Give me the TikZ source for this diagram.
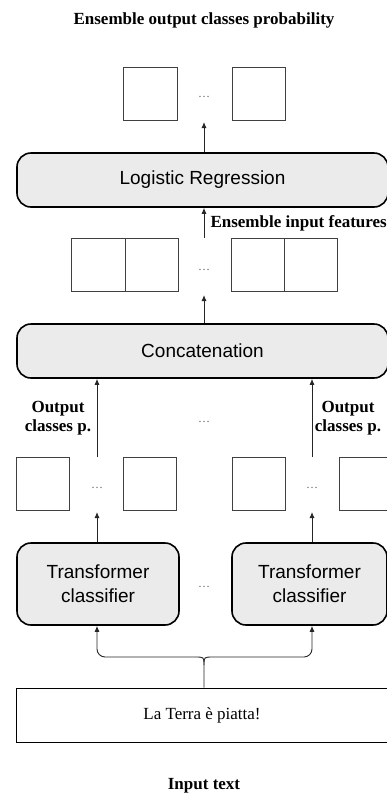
\documentclass[tikz,border=0pt]{standalone}
\usepackage{fontspec}
\setmainfont{Liberation Serif}
\setsansfont{Liberation Sans}
\usetikzlibrary{arrows.meta,positioning}

\begin{document}
\begin{tikzpicture}[x=1pt,y=-1pt,
  cell/.style={draw=black!75,line width=0.8pt,minimum width=53pt,minimum height=53pt,inner sep=0pt,outer sep=0pt},
  block/.style={draw,line width=1.6pt,fill=black!8,rounded corners=14pt,font=\sffamily\fontsize{19}{24}\selectfont,align=center,inner sep=0pt},
  lbl/.style={font=\bfseries\fontsize{17}{19}\selectfont,align=center},
  gap/.style={font=\fontsize{12}{12}\selectfont,text=black!60,inner sep=0pt},
  arr/.style={draw=black!85,line width=0.9pt,-{Latex[length=6pt,width=5pt]}}]
  \useasboundingbox (0,0) rectangle (387,796);
  \clip (0,0) rectangle (387,796);
  \node[lbl] (outtitle) at (204,20) {Ensemble output classes probability};
  \node[cell,minimum width=54pt] (p1) at (150,93.5) {};
  \node[cell] (pn) at (258.5,93.5) {};
  \node[gap] (pdots) at (204,97) {\dots};
  \node[block,minimum width=371pt,minimum height=54pt] (lr) at (202.5,180) {Logistic Regression};
  \coordinate (lrin) at (204,122);
  \draw[arr] (lr.north -| lrin) -- (lrin);
  \node[lbl,anchor=west] (featlbl) at (207,223) {Ensemble input features};
  \node[cell,minimum width=54pt] (f1a) at (98,265) {};
  \node[cell,right=0pt of f1a] (f1b) {};
  \node[cell] (fna) at (258,265) {};
  \node[cell,right=0pt of fna] (fnb) {};
  \node[gap] (fdots) at (204,270) {\dots};
  \coordinate (fout) at (204,238);
  \draw[arr] (fout) -- (lr.south -| fout);
  \node[block,minimum width=371pt,minimum height=54pt] (cat) at (202.5,351) {Concatenation};
  \coordinate (catout) at (204,295);
  \draw[arr] (cat.north -| catout) -- (catout);
  \node[lbl] (alabel) at (58,418) {Output\\classes p.};
  \node[lbl] (blabel) at (348,418) {Output\\classes p.};
  \node[gap] (mdots) at (204,422) {\dots};
  \node[cell] (a1) at (43,483.5) {};
  \node[cell] (an) at (150,483.5) {};
  \node[cell] (b1) at (258.5,483.5) {};
  \node[cell] (bn) at (365.5,483.5) {};
  \node[gap] (adots) at (97,488) {\dots};
  \node[gap] (bdots) at (312,488) {\dots};
  \coordinate (aout) at (97,457);
  \coordinate (bout) at (312,457);
  \draw[arr] (aout) -- (cat.south -| aout);
  \draw[arr] (bout) -- (cat.south -| bout);
  \node[block,minimum width=162pt,minimum height=82pt] (tfa) at (98,584) {Transformer\\classifier};
  \node[block,minimum width=155pt,minimum height=82pt] (tfb) at (309.5,584) {Transformer\\classifier};
  \node[gap] (tdots) at (204,587) {\dots};
  \coordinate (ain) at (97,512);
  \coordinate (bin) at (312,512);
  \draw[arr] (tfa.north -| ain) -- (ain);
  \draw[arr] (tfb.north -| bin) -- (bin);
  \node[draw,line width=0.8pt,minimum width=372pt,minimum height=54pt,font=\fontsize{17}{19}\selectfont] (txt) at (202,715) {La Terra è piatta!};
  \coordinate (split) at (204,665);
  \coordinate (bl) at (195,657);
  \coordinate (br) at (213,657);
  \coordinate (ja) at (97,657);
  \coordinate (jb) at (312,657);
  \draw[line width=0.9pt,draw=black!85] (txt.north -| split) -- (split) .. controls (split |- bl) .. (bl);
  \draw[line width=0.9pt,draw=black!85] (split) .. controls (split |- br) .. (br);
  \draw[arr,rounded corners=8pt] (bl) -- (ja) -- (tfa.south -| ja);
  \draw[arr,rounded corners=8pt] (br) -- (jb) -- (tfb.south -| jb);
  \node[lbl] (intitle) at (204,786) {Input text};
\end{tikzpicture}
\end{document}
